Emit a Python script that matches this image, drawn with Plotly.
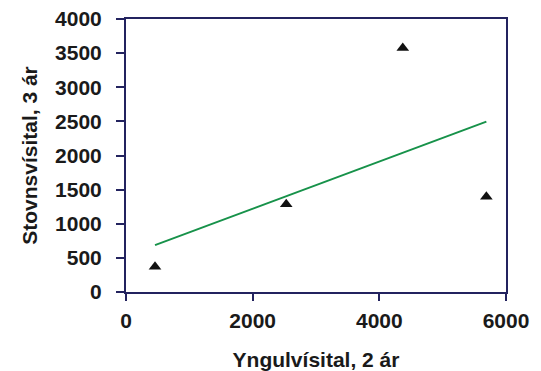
import numpy as np
import plotly.graph_objects as go

# Data
x_vals = [458, 2530, 4370, 5690]
y_vals = [370, 1285, 3575, 1395]

x_ticks = [0, 2000, 4000, 6000]
y_ticks = [0, 500, 1000, 1500, 2000, 2500, 3000, 3500, 4000]

x_title = "Yngulvísital, 2 ár"
y_title = "Stovnsvísital, 3 ár"

# Linear trend line (least squares) over the data range
slope, intercept = np.polyfit(x_vals, y_vals, 1)
trend_x = [min(x_vals), max(x_vals)]
trend_y = [slope * v + intercept for v in trend_x]

axis_color = "#23235f"
font_family = "Liberation Sans, Arial, sans-serif"

fig = go.Figure()
fig.add_trace(go.Scatter(
    x=trend_x, y=trend_y, mode="lines",
    line=dict(color="#17924a", width=2), hoverinfo="skip", showlegend=False,
))
fig.add_trace(go.Scatter(
    x=x_vals, y=y_vals, mode="markers",
    marker=dict(symbol="triangle-up", size=11, color="#111111"),
    showlegend=False,
))

fig.update_layout(
    width=533, height=363,
    margin=dict(l=118, r=35, t=11, b=79),
    paper_bgcolor="white", plot_bgcolor="white",
    font=dict(family=font_family, size=21, color="#1a1a1a"),
)
fig.update_xaxes(
    range=[0, 6000], tickvals=x_ticks, ticktext=[str(v) for v in x_ticks],
    showgrid=False, zeroline=False,
    showline=True, linecolor=axis_color, linewidth=2, mirror=True,
    ticks="outside", ticklen=7, tickwidth=2, tickcolor=axis_color,
    ticklabelstandoff=2, ticklabeloverflow="allow",
    tickfont=dict(family=font_family, size=21, color="#1a1a1a", weight="bold"),
    title=dict(text="<b>" + x_title + "</b>", standoff=21,
               font=dict(family=font_family, size=21, color="#1a1a1a")),
    automargin=False,
)
fig.update_yaxes(
    range=[0, 4000], tickvals=y_ticks, ticktext=[str(v) for v in y_ticks],
    showgrid=False, zeroline=False,
    showline=True, linecolor=axis_color, linewidth=2, mirror=True,
    ticks="outside", ticklen=8, tickwidth=2, tickcolor=axis_color,
    ticklabelstandoff=10, ticklabeloverflow="allow",
    tickfont=dict(family=font_family, size=21, color="#1a1a1a", weight="bold"),
    title=dict(text="<b>" + y_title + "</b>", standoff=12,
               font=dict(family=font_family, size=21, color="#1a1a1a")),
    automargin=False,
)

fig.write_html("out.html")
